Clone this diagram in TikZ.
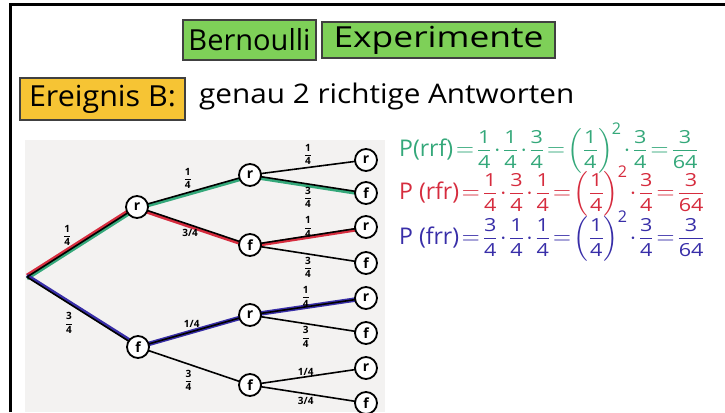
\documentclass[tikz,border=0pt]{standalone}
\usepackage{fontspec}
\usepackage{amsmath}
\usepackage{graphicx}
\usetikzlibrary{backgrounds}
\setmainfont{Open Sans}
\definecolor{boxgreen}{RGB}{126,208,88}
\definecolor{boxyellow}{RGB}{246,196,52}
\definecolor{fgreen}{RGB}{52,168,122}
\definecolor{fred}{RGB}{214,44,62}
\definecolor{fblue}{RGB}{56,46,168}
\definecolor{panel}{RGB}{243,242,241}
\newcommand{\fr}[2]{\raisebox{1.6pt}{\fontsize{18}{18}\selectfont\scalebox{1.2}[1]{$\genfrac{}{}{1.3pt}{0}{\text{#1}}{\text{#2}}$}}}
\newcommand{\sfr}[2]{$\dfrac{\text{#1}}{\text{#2}}$}
\newcommand{\tight}{\thickmuskip=2mu\medmuskip=1.5mu\thinmuskip=1mu}
\begin{document}
\begin{tikzpicture}[x=1pt,y=-1pt,
  titlebox/.style={draw=black!75, line width=1.5pt, inner sep=0pt, font=\fontsize{29}{32}\selectfont},
  st/.style={circle, draw, line width=1.8pt, fill=white, minimum size=22pt, inner sep=0pt, font=\fontsize{14}{14}\selectfont\bfseries},
  edgeline/.style={line width=1.6pt},
  hl/.style={line width=3.5pt, draw=#1},
  lab/.style={font=\fontsize{10}{10}\selectfont\bfseries, inner sep=1pt},
  formula/.style={anchor=west, inner sep=0pt, font=\fontsize{23}{26}\selectfont},
]
\useasboundingbox (0,0) rectangle (725,412);
% frame
\draw[line width=3pt] (10,412) -- (10,5) -- (725,5);

% title boxes
\node[titlebox, fill=boxgreen, minimum width=133pt, minimum height=40pt] (bern) at (249.5,40) {Bernoulli};
\node[titlebox, fill=boxgreen, minimum width=233pt, minimum height=36pt] (exp) at (438.5,40) {\scalebox{1.22}[1]{Experimente}};
\node[titlebox, fill=boxyellow, minimum width=165pt, minimum height=42pt] (ereig) at (102.5,99) {\scalebox{1.05}[1]{Ereignis B:}};
\node[anchor=west, inner sep=0pt, font=\fontsize{27}{30}\selectfont] (gen) at (199,96) {\scalebox{1.1}[1]{genau 2 richtige Antworten}};

% formulas
\node[formula, text=fgreen] (f1) at (399,148) {\tight$\text{P(rrf)}=\fr14\cdot\fr14\cdot\fr34=\left(\fr14\right)^{\!\text{2}}\cdot\fr34=\fr3{64}$};
\node[formula, text=fred] (f2) at (399,191) {\tight$\text{P (rfr)}=\fr14\cdot\fr34\cdot\fr14=\left(\fr14\right)^{\!\text{2}}\cdot\fr34=\fr3{64}$};
\node[formula, text=fblue] (f3) at (399,236) {\tight$\text{P (frr)}=\fr34\cdot\fr14\cdot\fr14=\left(\fr14\right)^{\!\text{2}}\cdot\fr34=\fr3{64}$};

% tree nodes
\coordinate (root) at (27,277);
\node[st] (a) at (137,207) {r};
\node[st] (b) at (138,347) {f};
\node[st] (aa) at (250,175) {r};
\node[st] (ab) at (250,245) {f};
\node[st] (ba) at (250,315) {r};
\node[st] (bb) at (250,385) {f};
\node[st] (aaa) at (366,160) {r};
\node[st] (aab) at (366,193) {f};
\node[st] (aba) at (366,227) {r};
\node[st] (abb) at (366,263) {f};
\node[st] (baa) at (366,298) {r};
\node[st] (bab) at (366,333) {f};
\node[st] (bba) at (366,368) {r};
\node[st] (bbb) at (366,403) {f};

\begin{pgfonlayer}{background}
\fill[white] (0,0) rectangle (725,412);
\fill[panel] (25,140) rectangle (385,412);
% highlights
\draw[hl=fred] ([yshift=1.6pt]root) -- ([yshift=1.6pt]a.center);
\draw[hl=fgreen] ([yshift=-1.6pt]root) -- ([yshift=-1.6pt]a.center);
\draw[hl=fgreen] ([yshift=-1.6pt]a.center) -- ([yshift=-1.6pt]aa.center);
\draw[hl=fgreen] ([yshift=-1.6pt]aa.center) -- ([yshift=-1.6pt]aab.center);
\draw[hl=fred] ([yshift=-1.6pt]a.center) -- ([yshift=-1.6pt]ab.center);
\draw[hl=fred] ([yshift=-1.2pt]ab.center) -- ([yshift=-1.2pt]aba.center);
\draw[hl=fblue] ([yshift=1.6pt]root) -- ([yshift=1.6pt]b.center);
\draw[hl=fblue, line width=4.5pt] (b.center) -- (ba.center);
\draw[hl=fblue, line width=4.5pt] (ba.center) -- (baa.center);
% edges
\draw[edgeline] (root) -- node[lab, pos=0.42, above left=0pt] {\sfr14} (a.center);
\draw[edgeline] (root) -- node[lab, pos=0.45, below left=2pt] {\sfr34} (b.center);
\draw[edgeline] (a.center) -- node[lab, pos=0.45, above=2pt] {\sfr14} (aa.center);
\draw[edgeline] (a.center) -- node[lab, pos=0.47, below=3pt] {3/4} (ab.center);
\draw[edgeline] (b.center) -- node[lab, pos=0.48, above=2pt] {1/4} (ba.center);
\draw[edgeline] (b.center) -- node[lab, pos=0.45, below=4pt] {\sfr34} (bb.center);
\draw[edgeline] (aa.center) -- node[lab, pos=0.5, above=1pt] {\sfr14} (aaa.center);
\draw[edgeline] (aa.center) -- node[lab, pos=0.5, below=1pt] {\sfr34} (aab.center);
\draw[edgeline] (ab.center) -- node[lab, pos=0.5, above=-3pt] {\sfr14} (aba.center);
\draw[edgeline] (ab.center) -- node[lab, pos=0.5, below=1pt] {\sfr34} (abb.center);
\draw[edgeline] (ba.center) -- node[lab, pos=0.48, above=-2pt] {\sfr14} (baa.center);
\draw[edgeline] (ba.center) -- node[lab, pos=0.48, below=1pt] {\sfr34} (bab.center);
\draw[edgeline] (bb.center) -- node[lab, pos=0.48, above=0pt] {1/4} (bba.center);
\draw[edgeline] (bb.center) -- node[lab, pos=0.48, below=2pt] {3/4} (bbb.center);
\end{pgfonlayer}
\end{tikzpicture}
\end{document}
